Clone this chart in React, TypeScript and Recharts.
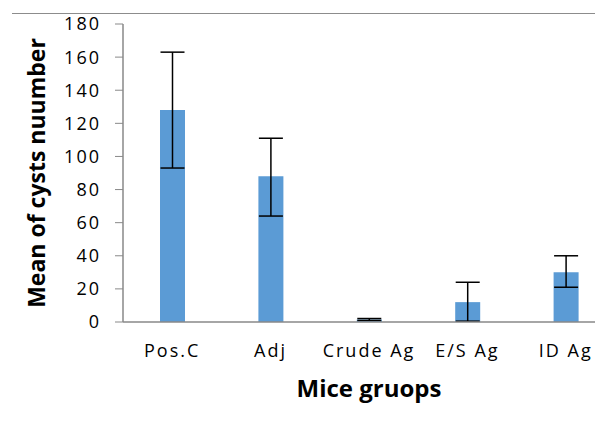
import React from "react";
import { BarChart, Bar, XAxis, YAxis, ErrorBar, Label } from "recharts";

const categories = ["Pos.C", "Adj", "Crude Ag", "E/S Ag", "ID Ag"];
const means = [128, 88, 1.5, 12, 30];
const errLow = [35, 24, 0.6, 11.5, 9];
const errHigh = [35, 23, 0.6, 12, 10];
const yTicks = [0, 20, 40, 60, 80, 100, 120, 140, 160, 180];

const data = categories.map((name, i) => ({
  name,
  mean: means[i],
  err: [errLow[i], errHigh[i]],
}));

const FONT = "'Open Sans', 'DejaVu Sans', sans-serif";

const YTitle = (props: any) => {
  const vb = props.viewBox || {};
  const cx = 45;
  const cy = vb.y + vb.height / 2;
  return (
    <text
      x={cx}
      y={cy}
      transform={`rotate(-90, ${cx}, ${cy})`}
      textAnchor="middle"
      fontFamily={FONT}
      fontWeight={700}
      fontSize={23}
      fill="#000"
    >
      Mean of cysts nuumber
    </text>
  );
};

export default function App() {
  return (
    <div
      style={{
        position: "relative",
        width: 603,
        height: 436,
        margin: -8,
        overflow: "hidden",
        background: "#fff",
      }}
    >
      <div
        style={{
          position: "absolute",
          left: 12,
          top: 13,
          width: 600,
          height: 0,
          borderTop: "1px solid #8c8c8c",
        }}
      />
      <BarChart
        width={640}
        height={436}
        data={data}
        margin={{ top: 24, right: 25, left: 0, bottom: 0 }}
        barSize={25}
      >
        <XAxis
          dataKey="name"
          height={114}
          tickLine={false}
          tickSize={0}
          tickMargin={22}
          axisLine={{ stroke: "#898989", strokeWidth: 1.5 }}
          tick={{ fill: "#000", fontSize: 18, fontFamily: FONT, letterSpacing: 2 }}
          interval={0}
        >
          <Label
            value="Mice gruops"
            position="insideBottom"
            offset={39}
            style={{ fontFamily: FONT, fontWeight: 700, fontSize: 24, fill: "#000" }}
          />
        </XAxis>
        <YAxis
          width={123}
          domain={[0, 180]}
          ticks={yTicks}
          interval={0}
          tickSize={8}
          tickMargin={14}
          axisLine={{ stroke: "#898989", strokeWidth: 1.5 }}
          tickLine={{ stroke: "#898989", strokeWidth: 1 }}
          tick={{ fill: "#000", fontSize: 18, fontFamily: FONT, letterSpacing: 2 }}
        >
          <Label content={<YTitle />} />
        </YAxis>
        <Bar dataKey="mean" fill="#5B9BD5" isAnimationActive={false}>
          <ErrorBar
            dataKey="err"
            width={12}
            stroke="#000"
            strokeWidth={1.5}
            direction="y"
            isAnimationActive={false}
          />
        </Bar>
      </BarChart>
    </div>
  );
}
